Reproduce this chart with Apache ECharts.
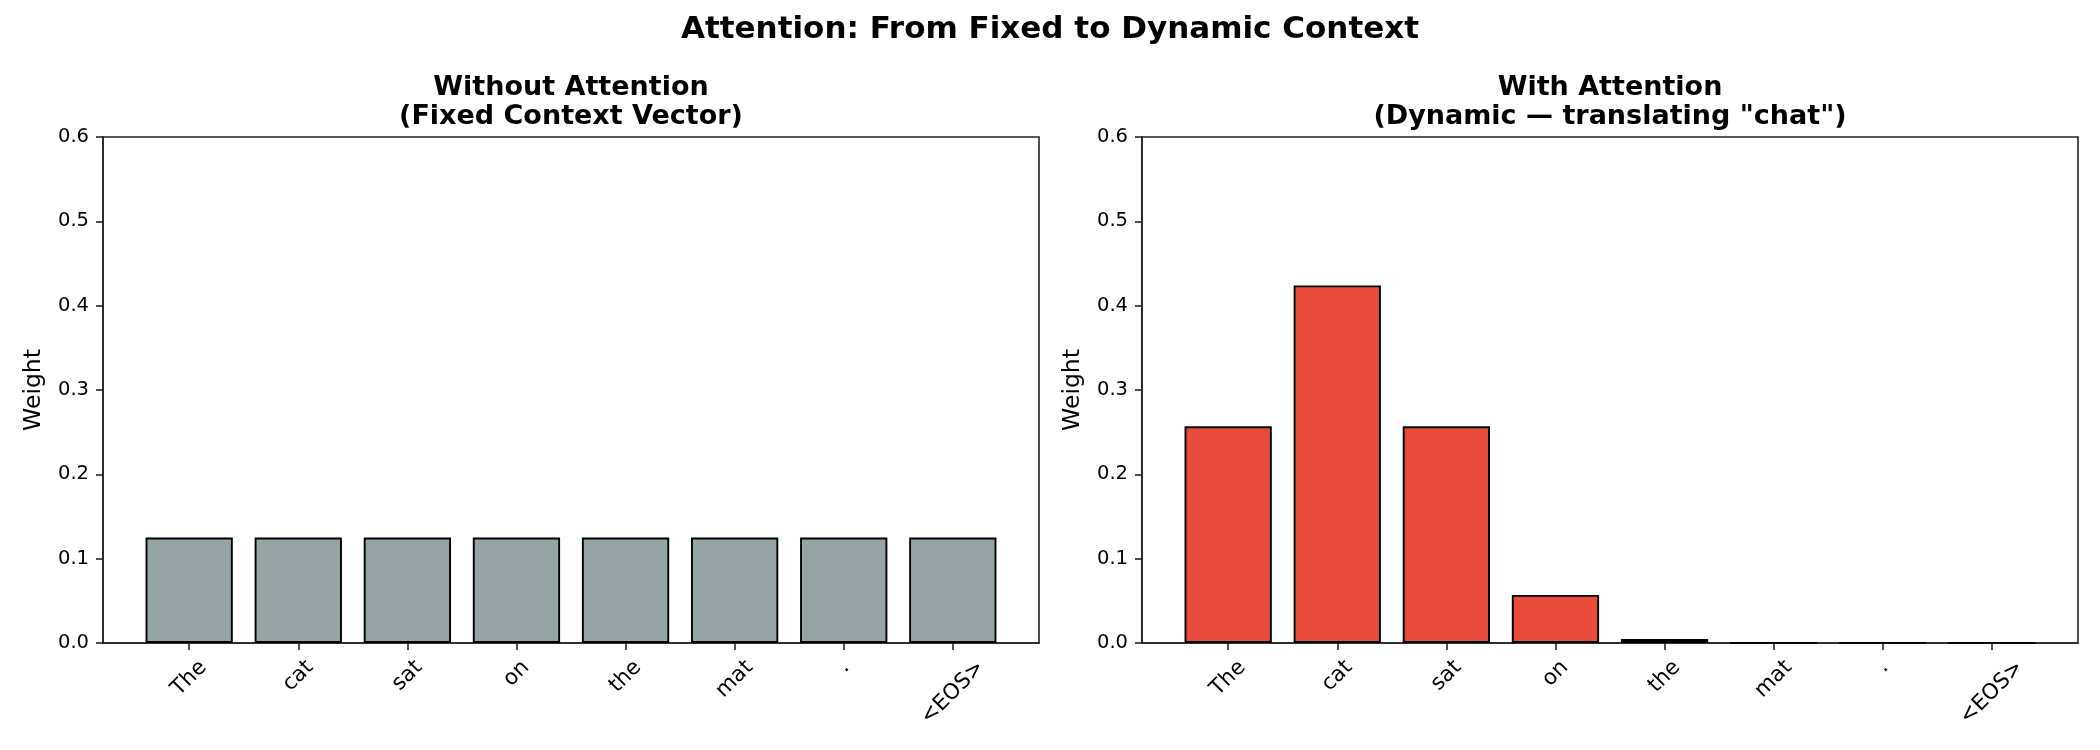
<!DOCTYPE html>
<html>
<head>
<meta charset="utf-8">
<script src="https://cdn.jsdelivr.net/npm/echarts@6/dist/echarts.min.js"></script>
<style>
  html, body { margin: 0; padding: 0; background: #fff; }
  #chart { width: 2100px; height: 750px; }
</style>
</head>
<body>
<div id="chart"></div>
<script>
// data
const tokens = ['The', 'cat', 'sat', 'on', 'the', 'mat', '.', '<EOS>'];
const fixedWeights = [0.125, 0.125, 0.125, 0.125, 0.125, 0.125, 0.125, 0.125];
const attnWeights = [0.257, 0.424, 0.257, 0.057, 0.0047, 0.0002, 0.0002, 0.0002];
const yTicks = [0, 0.1, 0.2, 0.3, 0.4, 0.5, 0.6];

const FONT = '"DejaVu Sans", sans-serif';
const TICK_FS = 19.5;
const XLAB_FS = 21.5;
const axisColor = '#222';

// panel boxes
const gridTop = 137, gridH = 506, gridW = 936;
const lefts = [103, 1142];
const xMin = -0.79, xMax = 7.79;
const barW = gridW / (xMax - xMin) * 0.8;

// measure labels so that rotated ones sit centred under the tick, like matplotlib
const ctx = document.createElement('canvas').getContext('2d');
ctx.font = XLAB_FS + 'px ' + FONT;
const rich = {};
tokens.forEach((t, i) => {
  const w = ctx.measureText(t).width;
  const p = (w + XLAB_FS) / 2;
  rich['t' + i] = {
    fontSize: XLAB_FS,
    fontFamily: FONT,
    color: '#000',
    lineHeight: XLAB_FS,
    padding: [p, p, 0, 0]
  };
});

const tickIdx = tokens.map((t, i) => i);

function xAxisFor(gi) {
  return {
    type: 'value',
    gridIndex: gi,
    min: xMin,
    max: xMax,
    splitLine: { show: false },
    axisLine: { show: true, onZero: false, lineStyle: { color: axisColor, width: 1.6 } },
    axisTick: {
      show: true,
      customValues: tickIdx,
      length: 7,
      lineStyle: { color: axisColor, width: 1.6 }
    },
    axisLabel: {
      customValues: tickIdx,
      rotate: 45,
      align: 'center',
      verticalAlign: 'middle',
      margin: 13.6,
      fontSize: XLAB_FS,
      fontFamily: FONT,
      color: '#000',
      formatter: v => '{t' + v + '|' + tokens[v] + '}',
      rich: rich
    }
  };
}

function yAxisFor(gi) {
  return {
    type: 'value',
    gridIndex: gi,
    min: 0,
    max: 0.6,
    interval: 0.1,
    name: 'Weight',
    nameLocation: 'middle',
    nameGap: 57,
    nameTextStyle: { fontSize: 23.5, fontFamily: FONT, color: '#000' },
    splitLine: { show: false },
    axisLine: { show: true, onZero: false, lineStyle: { color: axisColor, width: 1.6 } },
    axisTick: { show: true, length: 7, lineStyle: { color: axisColor, width: 1.6 } },
    axisLabel: {
      margin: 14,
      fontSize: TICK_FS,
      fontFamily: FONT,
      color: '#000',
      formatter: v => v.toFixed(1)
    }
  };
}

function barSeries(gi, values, color) {
  return {
    type: 'bar',
    xAxisIndex: gi,
    yAxisIndex: gi,
    barWidth: barW,
    data: values.map((v, i) => [i, v]),
    itemStyle: { color: color, borderColor: '#000', borderWidth: 1.9 },
    silent: true
  };
}

const subTitle = {
  fontSize: 27,
  fontWeight: 'bold',
  fontFamily: FONT,
  color: '#000',
  lineHeight: 29
};

const chart = echarts.init(document.getElementById('chart'), null, { renderer: 'canvas' });
chart.setOption({
  animation: false,
  backgroundColor: '#fff',
  title: [
    {
      text: 'Attention: From Fixed to Dynamic Context',
      left: 'center',
      top: 14,
      padding: 0,
      textStyle: { fontSize: 31, fontWeight: 'bold', fontFamily: FONT, color: '#000', lineHeight: 31 }
    },
    {
      text: 'Without Attention\n(Fixed Context Vector)',
      left: lefts[0] + gridW / 2,
      textAlign: 'center',
      top: 73,
      padding: 0,
      textStyle: subTitle
    },
    {
      text: 'With Attention\n(Dynamic \u2014 translating "chat")',
      left: lefts[1] + gridW / 2,
      textAlign: 'center',
      top: 73,
      padding: 0,
      textStyle: subTitle
    }
  ],
  grid: lefts.map(l => ({
    left: l,
    top: gridTop,
    width: gridW,
    height: gridH,
    show: true,
    borderColor: axisColor,
    borderWidth: 1.6,
    backgroundColor: 'transparent'
  })),
  xAxis: [xAxisFor(0), xAxisFor(1)],
  yAxis: [yAxisFor(0), yAxisFor(1)],
  series: [
    barSeries(0, fixedWeights, '#95a5a6'),
    barSeries(1, attnWeights, '#e74c3c')
  ]
});
</script>
</body>
</html>
